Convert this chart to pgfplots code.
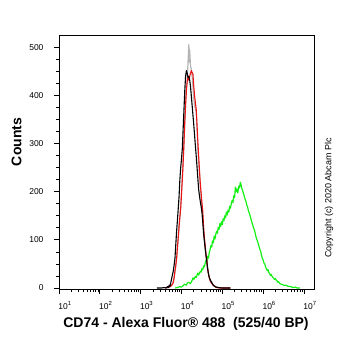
\documentclass[border=0pt]{standalone}
\usepackage{pgfplots}
\pgfplotsset{compat=1.18}
\usepackage{fontspec}
\setmainfont{Liberation Sans}
\definecolor{cgreen}{RGB}{20,240,20}
\definecolor{cred}{RGB}{235,20,20}
\definecolor{cgray}{RGB}{180,180,180}
\pgfplotstableread{
lx c
3.40 0
3.50 0
3.58 1
3.62 0
3.66 3
3.68 1
3.70 6
3.72 4
3.74 12
3.76 20
3.78 28
3.80 36
3.82 48
3.84 62
3.86 90
3.88 118
3.90 140
3.92 165
3.94 190
3.96 225
3.98 250
4.00 268
4.02 290
4.04 330
4.06 370
4.08 410
4.10 440
4.12 452
4.14 446
4.16 438
4.18 440
4.20 432
4.22 420
4.24 400
4.26 380
4.28 360
4.30 340
4.32 318
4.34 296
4.36 275
4.38 252
4.40 228
4.42 205
4.44 192
4.46 180
4.48 170
4.50 158
4.52 138
4.54 115
4.56 98
4.58 82
4.60 68
4.62 55
4.64 40
4.66 30
4.68 22
4.70 18
4.72 14
4.74 12
4.76 8
4.78 6
4.80 4
4.84 2
4.90 1
5.00 0
5.20 0
}\blackdata
\pgfplotstableread{
lx c
3.60 0
3.70 2
3.74 4
3.78 8
3.80 12
3.82 22
3.84 36
3.86 48
3.88 60
3.90 85
3.92 105
3.94 128
3.96 148
3.98 165
4.00 195
4.02 225
4.04 260
4.06 300
4.08 345
4.10 380
4.12 410
4.14 430
4.16 438
4.18 432
4.20 440
4.22 446
4.24 452
4.26 448
4.28 445
4.30 420
4.32 400
4.34 385
4.36 372
4.38 340
4.40 305
4.42 275
4.44 245
4.46 218
4.48 198
4.50 178
4.52 160
4.54 128
4.56 105
4.58 88
4.60 70
4.62 58
4.64 42
4.66 30
4.68 22
4.70 16
4.72 12
4.74 10
4.78 6
4.82 3
4.86 1
4.95 0
5.20 0
}\reddata
\pgfplotstableread{
lx c
3.65 0
3.72 3
3.78 8
3.82 20
3.86 45
3.90 80
3.94 125
3.98 170
4.02 230
4.04 265
4.06 300
4.08 340
4.10 385
4.12 420
4.14 430
4.16 470
4.18 506
4.19 470
4.20 495
4.22 462
4.24 455
4.26 440
4.28 420
4.30 395
4.32 380
4.34 372
4.36 366
4.38 330
4.40 290
4.42 262
4.44 238
4.46 212
4.48 190
4.50 170
4.52 150
4.54 122
4.56 100
4.58 84
4.60 66
4.62 52
4.64 38
4.66 30
4.68 22
4.70 17
4.74 10
4.78 6
4.84 3
4.92 1
5.05 0
5.20 0
}\graydata
\pgfplotstableread{
lx c
3.84 0
3.90 1
3.96 3
4.00 2
4.04 5
4.08 8
4.12 6
4.14 10
4.18 12
4.22 9
4.26 16
4.28 21
4.30 18
4.34 24
4.36 22
4.40 31
4.42 27
4.46 35
4.48 33
4.50 40
4.52 38
4.54 46
4.56 44
4.58 52
4.60 58
4.62 55
4.64 66
4.66 62
4.68 74
4.70 80
4.72 88
4.74 85
4.76 98
4.78 94
4.80 108
4.82 102
4.84 112
4.86 118
4.88 114
4.90 126
4.92 122
4.94 134
4.96 128
4.98 138
5.00 132
5.02 144
5.04 140
5.06 150
5.08 146
5.10 158
5.12 152
5.14 162
5.16 158
5.18 170
5.20 166
5.22 176
5.24 182
5.26 178
5.28 192
5.30 188
5.32 210
5.34 200
5.36 206
5.38 198
5.40 212
5.42 208
5.44 220
5.46 214
5.48 206
5.50 202
5.52 196
5.54 190
5.56 184
5.58 180
5.60 172
5.62 168
5.64 160
5.66 156
5.68 150
5.70 144
5.72 138
5.74 132
5.76 126
5.78 122
5.80 116
5.82 108
5.84 102
5.86 98
5.88 92
5.90 86
5.92 80
5.94 76
5.96 68
5.98 62
6.00 58
6.02 52
6.04 50
6.06 44
6.08 40
6.10 36
6.12 38
6.14 32
6.16 30
6.18 26
6.20 28
6.22 24
6.24 22
6.26 20
6.28 18
6.30 20
6.32 16
6.34 15
6.36 12
6.38 13
6.40 10
6.44 8
6.48 7
6.52 5
6.56 6
6.60 4
6.64 3
6.68 3
6.72 1
6.78 2
6.84 0
6.90 0
}\greendata
\begin{document}
\begin{tikzpicture}[x=1bp,y=1bp]
\useasboundingbox (0,0) rectangle (362,351);
\begin{axis}[
  at={(59bp,62bp)}, anchor=south west,
  width=255bp, height=254bp, scale only axis,
  xmin=1, xmax=7.245, ymin=-2, ymax=526,
  axis line style={black, line width=0.9bp},
  tick align=outside, xtick pos=left, ytick pos=left,
  xtick={1,2,3,4,5,6,7},
  xticklabels={10\textsuperscript{1},10\textsuperscript{2},10\textsuperscript{3},10\textsuperscript{4},10\textsuperscript{5},10\textsuperscript{6},10\textsuperscript{7}},
  minor xtick={1.301,1.477,1.602,1.699,1.778,1.845,1.903,1.954,
               2.301,2.477,2.602,2.699,2.778,2.845,2.903,2.954,
               3.301,3.477,3.602,3.699,3.778,3.845,3.903,3.954,
               4.301,4.477,4.602,4.699,4.778,4.845,4.903,4.954,
               5.301,5.477,5.602,5.699,5.778,5.845,5.903,5.954,
               6.301,6.477,6.602,6.699,6.778,6.845,6.903,6.954},
  ytick={0,100,200,300,400,500},
  minor y tick num=3,
  major tick length=5bp, minor tick length=3bp,
  every tick/.style={black, line width=0.9bp},
  ticklabel style={font=\fontsize{8.5bp}{10bp}\selectfont},
  xticklabel style={xshift=6bp, yshift=-4bp},
  yticklabel style={xshift=-7bp},
  /pgf/number format/assume math mode=true,
  clip=true,
]
\addplot[cgreen, line width=1.2bp, line join=round] table[x=lx, y=c] {\greendata};
\addplot[cgray, line width=1.2bp, line join=round] table[x=lx, y=c] {\graydata};
\addplot[cred, line width=1.1bp, line join=round] table[x=lx, y=c] {\reddata};
\addplot[black, line width=1.1bp, line join=round] table[x=lx, y=c] {\blackdata};
\end{axis}
\node[rotate=90, font=\bfseries\fontsize{14bp}{16bp}\selectfont] at (16.5,209) {Counts};
\node[font=\bfseries\fontsize{14bp}{16bp}\selectfont] at (186,27.5) {CD74 - Alexa Fluor® 488\ \ (525/40 BP)};
\node[rotate=90, font=\fontsize{9bp}{10bp}\selectfont] at (329,153) {Copyright (c) 2020 Abcam Plc};
\end{tikzpicture}
\end{document}
